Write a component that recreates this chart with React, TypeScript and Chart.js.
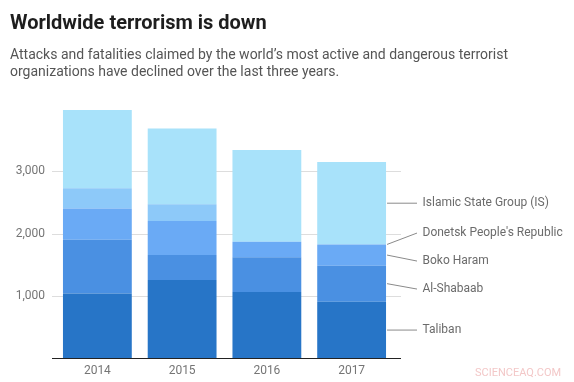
import React, { useEffect, useRef } from "react";
import { Chart, registerables } from "chart.js";

Chart.register(...registerables);

const years = ["2014", "2015", "2016", "2017"];
const groups = ["Taliban", "Al-Shabaab", "Boko Haram", "Donetsk People's Republic", "Islamic State Group (IS)"];
const taliban = [1040, 1255, 1065, 910];
const alShabaab = [860, 400, 555, 575];
const bokoHaram = [500, 545, 250, 340];
const donetsk = [325, 270, 0, 0];
const islamicState = [1250, 1210, 1465, 1320];
const colors = ["#2775C7", "#4A90E2", "#6AAAF5", "#8DC9F9", "#A8E2FA"];
const yTicks = [1000, 2000, 3000];

const guidePlugin = {
  id: "guides",
  beforeDatasetsDraw(chart: any) {
    const { ctx, chartArea, scales } = chart;
    ctx.save();
    ctx.strokeStyle = "#dddddd";
    ctx.lineWidth = 1;
    for (const t of yTicks) {
      const y = Math.round(scales.y.getPixelForValue(t)) + 0.5;
      ctx.beginPath();
      ctx.moveTo(chartArea.left - 3, y);
      ctx.lineTo(chartArea.right + 7, y);
      ctx.stroke();
    }
    ctx.restore();
  },
  afterDatasetsDraw(chart: any) {
    const { ctx, chartArea } = chart;
    ctx.save();
    ctx.strokeStyle = "#222222";
    ctx.lineWidth = 1.2;
    ctx.beginPath();
    ctx.moveTo(chartArea.left - 3, chartArea.bottom);
    ctx.lineTo(chartArea.right + 7, chartArea.bottom);
    ctx.stroke();

    // leader labels for last bar
    const last = years.length - 1;
    const items: any[] = [];
    chart.data.datasets.forEach((ds: any, i: number) => {
      const el = chart.getDatasetMeta(i).data[last];
      const mid = (el.y + el.base) / 2;
      items.push({ label: ds.label, desired: mid, x: el.x + el.width / 2 });
    });
    items.sort((a, b) => a.desired - b.desired);
    const gap = 28;
    const clusters: any[] = [];
    for (const it of items) {
      clusters.push({ items: [it], start: it.desired });
      while (clusters.length > 1) {
        const c = clusters[clusters.length - 1];
        const p = clusters[clusters.length - 2];
        const pEnd = p.start + (p.items.length - 1) * gap;
        if (pEnd + gap > c.start) {
          const merged = p.items.concat(c.items);
          let s = 0;
          merged.forEach((m: any, k: number) => (s += m.desired - k * gap));
          clusters.splice(clusters.length - 2, 2, { items: merged, start: s / merged.length });
        } else break;
      }
    }
    ctx.font = "12px Roboto";
    ctx.textBaseline = "middle";
    ctx.textAlign = "left";
    for (const c of clusters) {
      c.items.forEach((it: any, k: number) => {
        const ly = c.start + k * gap;
        ctx.strokeStyle = "#8a8a8a";
        ctx.lineWidth = 1;
        ctx.beginPath();
        ctx.moveTo(it.x + 1, it.desired);
        ctx.lineTo(417, ly);
        ctx.stroke();
        ctx.fillStyle = "#6b6b6b";
        ctx.fillText(it.label, 422.5, ly);
      });
    }
    ctx.restore();
  },
};

export default function App() {
  const ref = useRef<HTMLCanvasElement>(null);
  useEffect(() => {
    const series = [taliban, alShabaab, bokoHaram, donetsk, islamicState];
    const chart = new Chart(ref.current!, {
      type: "bar",
      data: {
        labels: years,
        datasets: series.map((d, i) => ({
          label: groups[i],
          data: d,
          backgroundColor: colors[i],
          borderWidth: 0,
          categoryPercentage: 1,
          barPercentage: 0.812,
        })),
      },
      options: {
        animation: false,
        responsive: false,
        devicePixelRatio: 1,
        layout: { padding: { top: 108.5, right: 180, left: 0, bottom: 0 } },
        plugins: { legend: { display: false }, tooltip: { enabled: false }, title: { display: false } },
        scales: {
          x: {
            stacked: true,
            grid: { display: false, drawTicks: false },
            border: { display: false },
            ticks: { color: "#757575", font: { family: "Roboto", size: 12 }, padding: 5 },
            afterFit: (s: any) => { s.height = 23.5; },
          },
          y: {
            stacked: true,
            min: 0,
            max: 4000,
            grid: { display: false, drawTicks: false },
            border: { display: false },
            afterBuildTicks: (s: any) => { s.ticks = yTicks.map((v) => ({ value: v })); },
            ticks: {
              color: "#757575",
              font: { family: "Roboto", size: 12 },
              padding: 10,
              callback: (v: any) => Number(v).toLocaleString("en-US"),
            },
            afterFit: (s: any) => { s.width = 55; },
          },
        },
      },
      plugins: [guidePlugin],
    });
    return () => chart.destroy();
  }, []);

  return (
    <div style={{ position: "fixed", left: 0, top: 0, width: 574, height: 382, background: "#fff", fontFamily: "Roboto" }}>
      <canvas ref={ref} width={574} height={382} style={{ position: "absolute", left: 0, top: 0 }} />
      <div style={{ position: "absolute", left: 10, top: 10, fontSize: 20, lineHeight: "24px", fontWeight: 700, color: "#1e1e1e", whiteSpace: "nowrap" }}>
        Worldwide terrorism is down
      </div>
      <div style={{ position: "absolute", left: 10, top: 45.5, fontSize: 14, lineHeight: "17px", color: "#555555", whiteSpace: "nowrap" }}>
        Attacks and fatalities claimed by the world’s most active and dangerous terrorist
        <br />
        organizations have declined over the last three years.
      </div>
      <div style={{ position: "absolute", left: 475, top: 366, fontSize: 11, lineHeight: "14px", color: "#f3c8c8", whiteSpace: "nowrap" }}>
        SCIENCEAQ.COM
      </div>
    </div>
  );
}
